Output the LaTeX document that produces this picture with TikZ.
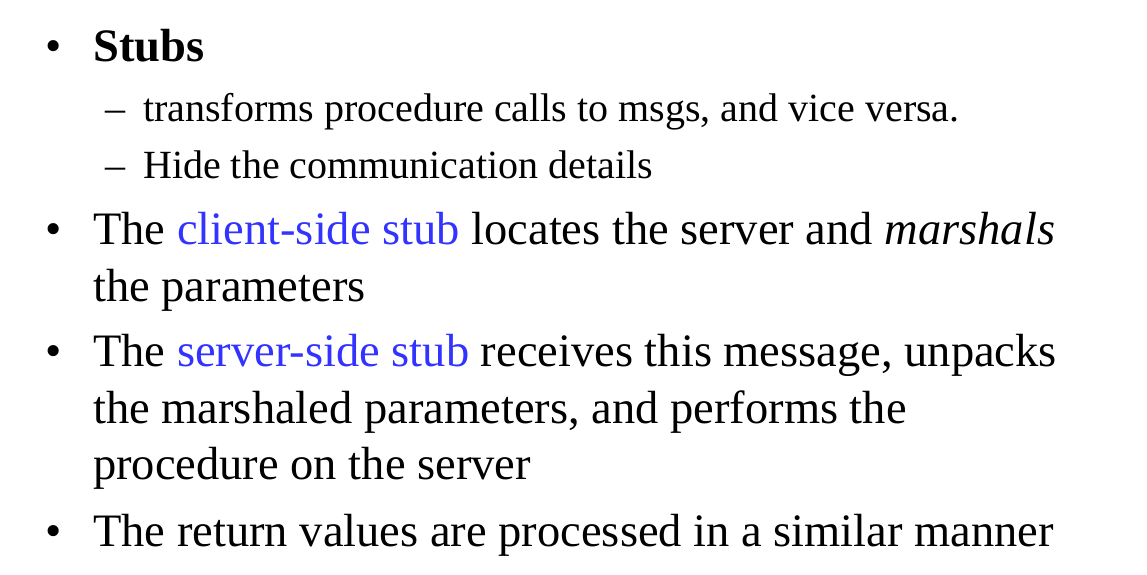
\documentclass[tikz,border=0pt]{standalone}
\usepackage{fontspec}
\setmainfont{Liberation Serif}
\definecolor{lnk}{RGB}{51,51,255}
\begin{document}
\begin{tikzpicture}[x=1pt,y=-1pt,
  big/.style={anchor=base west,inner sep=0pt,font=\fontsize{46.5}{54}\selectfont},
  small/.style={anchor=base west,inner sep=0pt,font=\fontsize{40}{46}\selectfont}]
\useasboundingbox (0,0) rectangle (1147,574);
\node[big] (b1) at (45,61) {•};
\node[big] (t1) at (93,61) {\bfseries Stubs};
\node[small] (d1) at (105,121) {–};
\node[small] (s1) at (143,121) {transforms procedure calls to msgs, and vice versa.};
\node[small] (d2) at (105,178) {–};
\node[small] (s2) at (143,178) {Hide the communication details};
\node[big] (b2) at (45,244) {•};
\node[big] (t2) at (93,244) {The \textcolor{lnk}{client-side stub} locates the server and \textit{marshals}};
\node[big] (t2b) at (93,301) {the parameters};
\node[big] (b3) at (45,366) {•};
\node[big] (t3) at (93,366) {The \textcolor{lnk}{server-side stub} receives this message, unpacks};
\node[big] (t3b) at (93,423) {the marshaled parameters, and performs the};
\node[big] (t3c) at (93,479) {procedure on the server};
\node[big] (b4) at (45,546) {•};
\node[big] (t4) at (93,546) {The return values are processed in a similar manner};
\end{tikzpicture}
\end{document}
